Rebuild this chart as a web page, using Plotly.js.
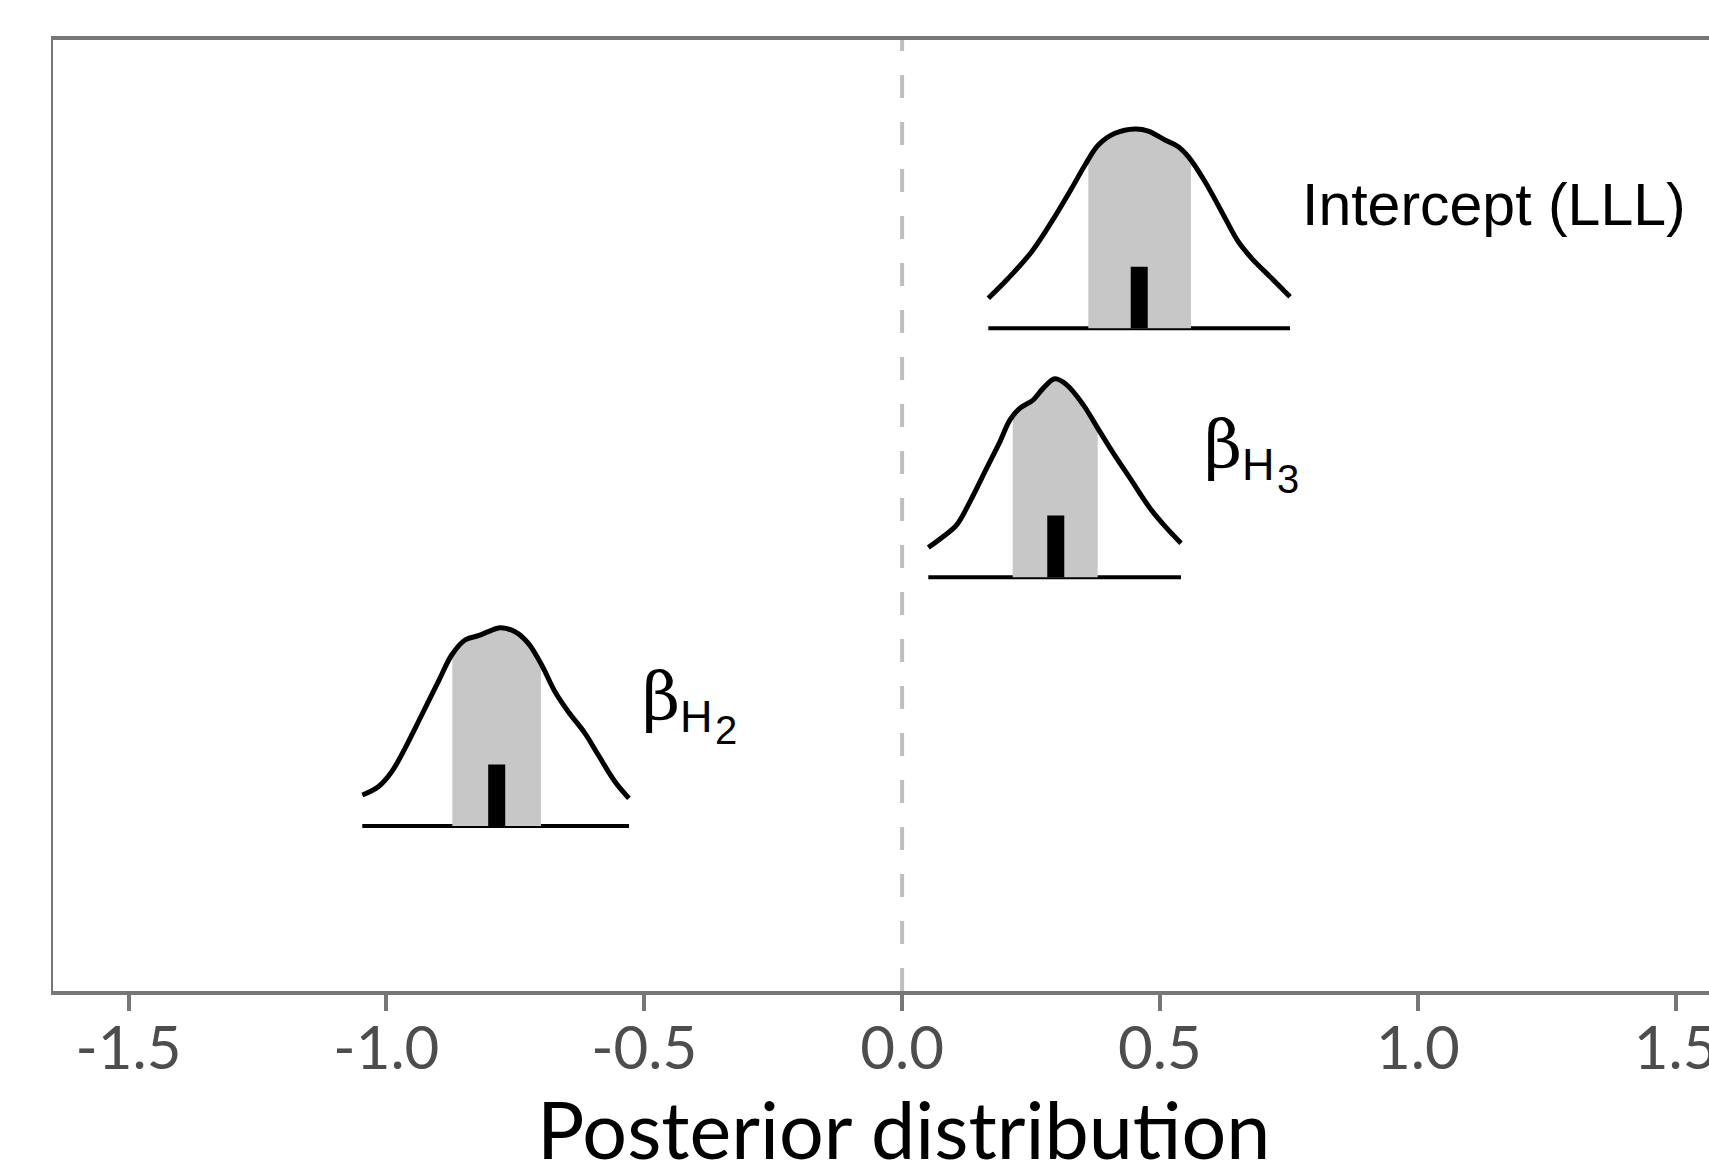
<!DOCTYPE html>
<html>
<head>
<meta charset="utf-8">
<script src="https://cdn.plot.ly/plotly-3.0.1.min.js"></script>
<style>
html, body { margin: 0; padding: 0; background: #ffffff; overflow: hidden; }
#chart { width: 1800px; height: 1167px; }
</style>
</head>
<body>
<div id="chart"></div>
<script>
// ---- Data ----
var params = ['βH2', 'βH3', 'Intercept (LLL)'];
var rows = [1, 2, 3];
var xTitle = 'Posterior distribution';

// Posterior density curves (x, scaled density height above the row baseline)
var h2X = [-1.0467, -1.0157, -0.9897, -0.9639, -0.9315, -0.8994, -0.8734, -0.8476, -0.8218, -0.8024, -0.7797, -0.7506, -0.7248, -0.6989, -0.6731, -0.6473, -0.6149, -0.5891, -0.5567, -0.5296];
var h2D = [0.1246, 0.1579, 0.2182, 0.3122, 0.4461, 0.5799, 0.6872, 0.7474, 0.7647, 0.7808, 0.7969, 0.7808, 0.7342, 0.6470, 0.5397, 0.4593, 0.3725, 0.2853, 0.1780, 0.1113];

var h3X = [0.0508, 0.0799, 0.1059, 0.1317, 0.1640, 0.1898, 0.2092, 0.2286, 0.2544, 0.2738, 0.2965, 0.3192, 0.3514, 0.3774, 0.4095, 0.4419, 0.4807, 0.5131, 0.5408];
var h3D = [0.1189, 0.1632, 0.2102, 0.3038, 0.4380, 0.5449, 0.6321, 0.6791, 0.7125, 0.7595, 0.7969, 0.7728, 0.6924, 0.6052, 0.4983, 0.3978, 0.2773, 0.1969, 0.1366];

var intX = [0.1672, 0.2059, 0.2513, 0.2901, 0.3289, 0.3547, 0.3805, 0.4128, 0.4516, 0.4774, 0.5098, 0.5356, 0.5550, 0.5874, 0.6197, 0.6519, 0.6779, 0.7167, 0.7522];
var intD = [0.1206, 0.2009, 0.3078, 0.4284, 0.5626, 0.6562, 0.7366, 0.7836, 0.8009, 0.7928, 0.7567, 0.7298, 0.6896, 0.5891, 0.4686, 0.3480, 0.2813, 0.2009, 0.1270];

// Interval (shaded) and median per parameter, order as params
var lower = [-0.8722, 0.2145, 0.3611];
var upper = [-0.7002, 0.3793, 0.5602];
var median = [-0.7861, 0.2980, 0.4598];
var medianMark = 0.2475; // height of the median marker

// Label anchor positions (data units)
var labelX = [-0.5082, 0.5825, 0.7716];
var labelY = [1.521, 2.532, 3.494];

// Axis ticks
var tickVals = [-1.5, -1.0, -0.5, 0.0, 0.5, 1.0, 1.5];
var tickText = ['-1.5', '-1.0', '-0.5', '0.0', '0.5', '1.0', '1.5'];

// ---- Build traces ----
var curvesX = [h2X, h3X, intX];
var curvesD = [h2D, h3D, intD];

function interp(xs, ds, x) {
  for (var i = 0; i < xs.length - 1; i++) {
    if (x >= xs[i] && x <= xs[i + 1]) {
      var t = (x - xs[i]) / (xs[i + 1] - xs[i]);
      return ds[i] + t * (ds[i + 1] - ds[i]);
    }
  }
  return 0;
}

var traces = [];
// baselines
rows.forEach(function (r, i) {
  var xs = curvesX[i];
  traces.push({
    type: 'scatter', mode: 'lines', hoverinfo: 'skip', showlegend: false,
    x: [xs[0], xs[xs.length - 1]], y: [r, r],
    line: { color: '#000000', width: 4 }
  });
});
// shaded intervals
rows.forEach(function (r, i) {
  var xs = curvesX[i], ds = curvesD[i];
  var px = [lower[i], lower[i]], py = [r, r + interp(xs, ds, lower[i])];
  for (var k = 0; k < xs.length; k++) {
    if (xs[k] > lower[i] && xs[k] < upper[i]) { px.push(xs[k]); py.push(r + ds[k]); }
  }
  px.push(upper[i], upper[i]);
  py.push(r + interp(xs, ds, upper[i]), r);
  traces.push({
    type: 'scatter', mode: 'lines', hoverinfo: 'skip', showlegend: false,
    x: px, y: py, fill: 'toself', fillcolor: '#C7C7C7',
    line: { color: 'rgba(0,0,0,0)', width: 0 }
  });
});
// median markers (thin filled rectangles)
var halfW = 0.0165;
rows.forEach(function (r, i) {
  var m = median[i];
  traces.push({
    type: 'scatter', mode: 'lines', hoverinfo: 'skip', showlegend: false,
    x: [m - halfW, m - halfW, m + halfW, m + halfW, m - halfW],
    y: [r, r + medianMark, r + medianMark, r, r],
    fill: 'toself', fillcolor: '#000000',
    line: { color: '#000000', width: 0 }
  });
});
// density curves
rows.forEach(function (r, i) {
  traces.push({
    type: 'scatter', mode: 'lines', hoverinfo: 'skip', showlegend: false,
    x: curvesX[i], y: curvesD[i].map(function (d) { return r + d; }),
    line: { color: '#000000', width: 5, shape: 'spline', smoothing: 1 }
  });
});

// ---- Labels ----
var sansFont = 'Liberation Sans, Arial, sans-serif';
var annotations = [];
// Intercept
annotations.push({
  xref: 'x', yref: 'y', x: labelX[2], y: labelY[2], xanchor: 'left', yanchor: 'middle',
  text: params[2], showarrow: false, font: { family: sansFont, size: 59, color: '#000000' }
});
// beta labels: β + H + subscript digit
[0, 1].forEach(function (i) {
  var digit = params[i].slice(-1);
  annotations.push({
    xref: 'x', yref: 'y', x: labelX[i], y: labelY[i], xanchor: 'left', yanchor: 'middle',
    text: 'β', showarrow: false, font: { family: 'DejaVu Serif, Liberation Serif, serif', size: 66, color: '#000000' }
  });
  annotations.push({
    xref: 'x', yref: 'y', x: labelX[i], y: labelY[i], xanchor: 'left', yanchor: 'middle',
    xshift: 38, yshift: -20,
    text: 'H', showarrow: false, font: { family: sansFont, size: 45, color: '#000000' }
  });
  annotations.push({
    xref: 'x', yref: 'y', x: labelX[i], y: labelY[i], xanchor: 'left', yanchor: 'middle',
    xshift: 73, yshift: -34,
    text: digit, showarrow: false, font: { family: sansFont, size: 40, color: '#000000' }
  });
});
// x-axis title
annotations.push({
  xref: 'paper', yref: 'paper', x: 0.5, y: -0.1451, xanchor: 'center', yanchor: 'middle',
  text: xTitle, showarrow: false, font: { family: 'Lato, sans-serif', size: 79, color: '#000000' }
});

var layout = {
  width: 1800, height: 1167,
  margin: { l: 53, r: 47, t: 40, b: 176, pad: 0 },
  paper_bgcolor: '#ffffff', plot_bgcolor: '#ffffff',
  showlegend: false,
  xaxis: {
    range: [-1.6465, 1.6500],
    tickmode: 'array', tickvals: tickVals, ticktext: tickText,
    showgrid: false, zeroline: false,
    showline: true, mirror: true, linecolor: '#777777', linewidth: 4,
    ticks: 'outside', ticklen: 16, tickwidth: 4, tickcolor: '#777777',
    ticklabelstandoff: -14,
    tickfont: { family: 'Lato, sans-serif', size: 60, color: '#4D4D4D' }
  },
  yaxis: {
    range: [0.337, 4.1586],
    showgrid: false, zeroline: false, showticklabels: false, ticks: '',
    showline: true, mirror: false, linecolor: '#777777', linewidth: 2
  },
  shapes: [{
    type: 'line', xref: 'x', yref: 'paper', x0: 0, x1: 0, y0: 0, y1: 1,
    layer: 'below',
    line: { color: '#BEBEBE', width: 4, dash: '23px,24px' }
  }],
  annotations: annotations
};

Plotly.newPlot('chart', traces, layout, { displayModeBar: false, staticPlot: true });
</script>
</body>
</html>
